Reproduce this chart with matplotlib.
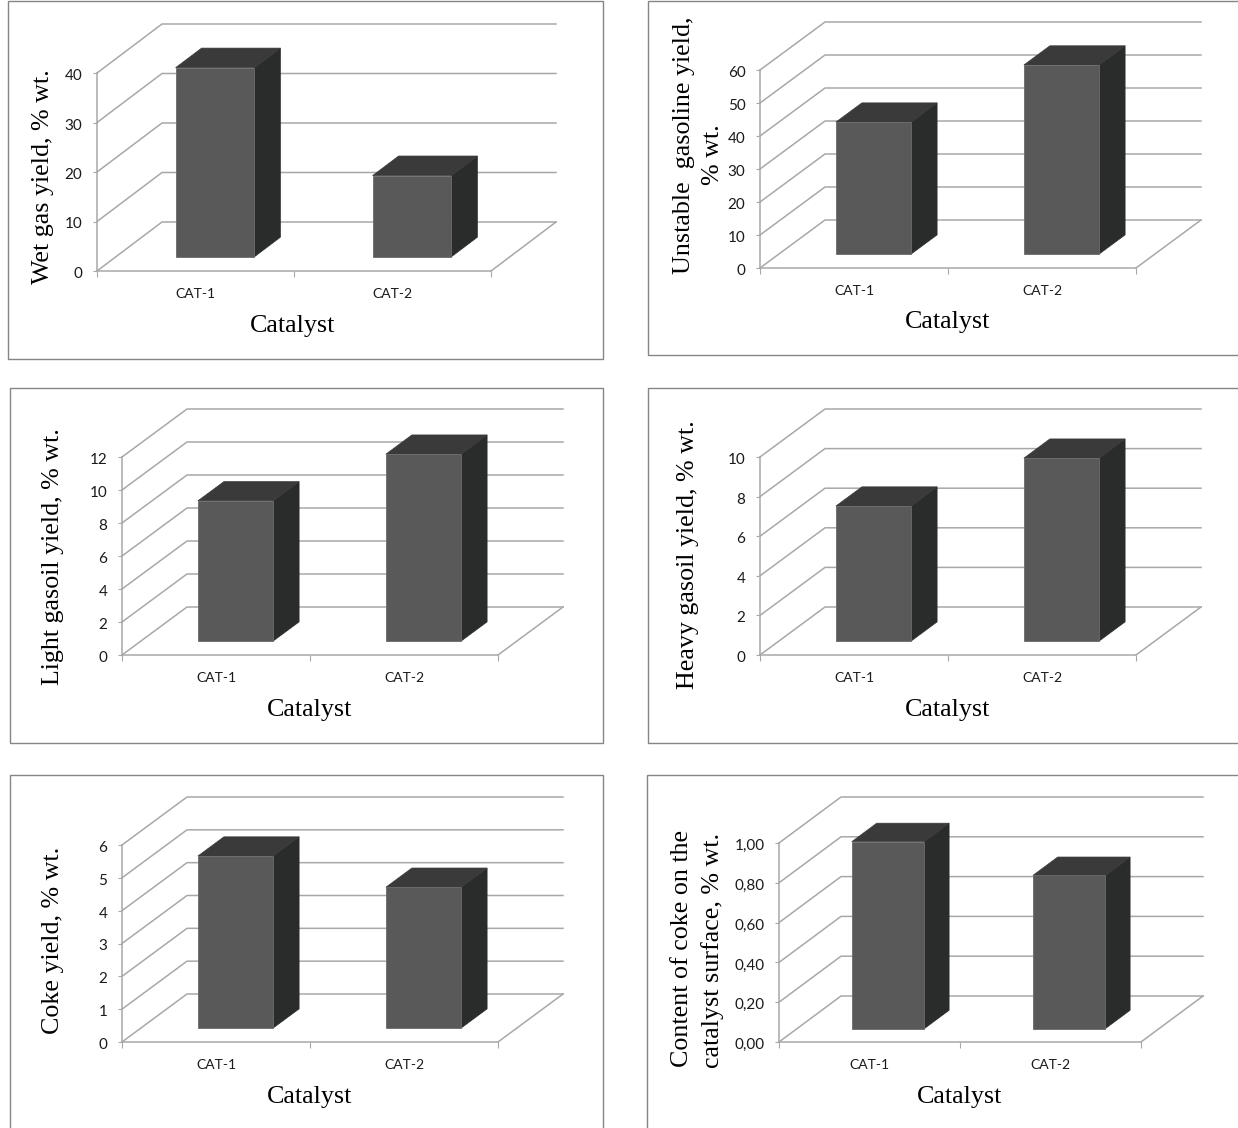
import matplotlib
matplotlib.use("Agg")
import matplotlib.pyplot as plt
from matplotlib.patches import Polygon, Rectangle
from matplotlib.transforms import ScaledTranslation

W, H = 1238, 1128
catalysts = ["CAT-1", "CAT-2"]

##############################
#  values
##############################
wet_gas = [38.2, 16.4]
unstable_gasoline = [40.0, 57.3]
light_gasoil = [8.5, 11.33]
heavy_gasoil = [6.82, 9.24]
coke = [5.24, 4.29]
coke_content = [0.94, 0.77]

wet_gas_ticks = [0, 10, 20, 30, 40]
gasoline_ticks = [0, 10, 20, 30, 40, 50, 60]
light_ticks = [0, 2, 4, 6, 8, 10, 12]
heavy_ticks = [0, 2, 4, 6, 8, 10]
coke_ticks = [0, 1, 2, 3, 4, 5, 6]
content_ticks = [0, 0.2, 0.4, 0.6, 0.8, 1.0]
content_labels = ["0,00", "0,20", "0,40", "0,60", "0,80", "1,00"]

GRID = "#a8a8a8"
FRONT = "#595959"
TOP = "#3a3a3a"
SIDE = "#2a2c2b"
FRAME = "#858585"
SERIF = "Liberation Serif"
LBL = 18.7

fig = plt.figure(figsize=(W / 100, H / 100), dpi=100)


def px_text(x, y, s, **kw):
	fig.text(x / W, 1 - y / H, s, family=SERIF, size=kw.pop("size", LBL), ha="center", va="center", **kw)


def panel(frame, front, back, vals, ticks, ticklabels=None):
	#-- frame = x0,y0,x1,y1 / front = left,right,y_zero,y_top in pixels / back = wall offset
	fx0, fy0, fx1, fy1 = frame
	fig.add_artist(Rectangle((fx0 / W, 1 - fy1 / H), (fx1 - fx0) / W, (fy1 - fy0) / H,
		transform=fig.transFigure, fc="white", ec=FRAME, lw=1.0, zorder=-5))

	left, right, y_zero, y_top = front
	ax = fig.add_axes([left / W, 1 - y_zero / H, (right - left) / W, (y_zero - y_top) / H])
	ymax = ticks[-1]
	ax.set_xlim(0, 2)
	ax.set_ylim(0, ymax)
	ax.patch.set_visible(False)
	ddx = back[0] / (right - left) * 2
	ddy = -back[1] / (y_zero - y_top) * ymax

	#-- back wall and floor
	for t in ticks:
		ax.plot([0, ddx, 2 + ddx], [t, t + ddy, t + ddy], color=GRID, lw=1.1, clip_on=False, zorder=1)
	ax.plot([2, 2 + ddx], [0, ddy], color=GRID, lw=1.1, clip_on=False, zorder=1)

	#-- bars, gap width 150% and sitting in the middle of the depth
	bw = 0.4
	sx, sy = ddx * 0.3, ddy * 0.29
	tx, ty = ddx * 0.4, ddy * 0.4
	for i, v in enumerate(vals):
		x0 = i + 0.5 - bw / 2 + sx
		x1 = x0 + bw
		ytop = v + sy
		ax.add_patch(Polygon([(x1, sy), (x1 + tx, sy + ty), (x1 + tx, ytop + ty), (x1, ytop)],
			fc=SIDE, ec=SIDE, lw=0.5, clip_on=False, zorder=3))
		ax.add_patch(Polygon([(x0, ytop), (x1, ytop), (x1 + tx, ytop + ty), (x0 + tx, ytop + ty)],
			fc=TOP, ec=TOP, lw=0.5, clip_on=False, zorder=3))
		ax.add_patch(Rectangle((x0, sy), bw, v, fc=FRONT, ec="#6a6a6a", lw=0.6, clip_on=False, zorder=4))

	for s in ["top", "right"]:
		ax.spines[s].set_visible(False)
	for s in ["left", "bottom"]:
		ax.spines[s].set_color(GRID)
		ax.spines[s].set_linewidth(1.1)
	ax.set_yticks(ticks)
	ax.set_yticklabels(ticklabels if ticklabels else [str(t) for t in ticks], family="Lato", size=11, color="#1a1a1a")
	ax.set_xticks([0, 1, 2])
	ax.set_xticklabels([])
	ax.set_xticks([0.5, 1.5], minor=True)
	ax.set_xticklabels(catalysts, minor=True, family="Lato", size=10, color="#1a1a1a")
	ax.tick_params(axis="y", length=3, color=GRID, pad=7.5)
	ax.tick_params(axis="x", which="major", length=4, color=GRID)
	ax.tick_params(axis="x", which="minor", length=0, pad=12)
	#-- tick numbers sit a little lower than the tick in the original
	for lab in ax.get_yticklabels():
		lab.set_transform(lab.get_transform() + ScaledTranslation(0, -1.5 / 100, fig.dpi_scale_trans))


panel((8, 1, 603, 359), (97, 491, 271, 73), (65, -49), wet_gas, wet_gas_ticks)
panel((648, 1, 1245, 355), (760, 1136, 268, 70), (65, -48), unstable_gasoline, gasoline_ticks)
panel((10, 388, 603, 743), (122, 498, 655, 457), (65, -48), light_gasoil, light_ticks)
panel((648, 388, 1245, 743), (760, 1136, 655, 457), (65, -48), heavy_gasoil, heavy_ticks)
panel((10, 775, 603, 1135), (122, 498, 1042, 845), (65, -48), coke, coke_ticks)
panel((647, 775, 1245, 1135), (779, 1141, 1042, 843), (62, -46), coke_content, content_ticks, content_labels)

#-- axis titles
px_text(43, 177, "Wet gas yield, % wt.", rotation=90)
px_text(684, 145, "Unstable  gasoline yield,", rotation=90)
px_text(713, 155, "% wt.", rotation=90)
px_text(53, 557, "Light gasoil yield, % wt.", rotation=90)
px_text(688, 555, "Heavy gasoil yield, % wt.", rotation=90)
px_text(53, 940, "Coke yield, % wt.", rotation=90)
px_text(682, 948, "Content of coke on the", rotation=90)
px_text(713, 950, "catalyst surface, % wt.", rotation=90)

px_text(293, 326, "Catalyst")
px_text(948, 322, "Catalyst")
px_text(310, 710, "Catalyst")
px_text(948, 710, "Catalyst")
px_text(310, 1097, "Catalyst")
px_text(960, 1097, "Catalyst")

fig.savefig("out.png", dpi=100)
